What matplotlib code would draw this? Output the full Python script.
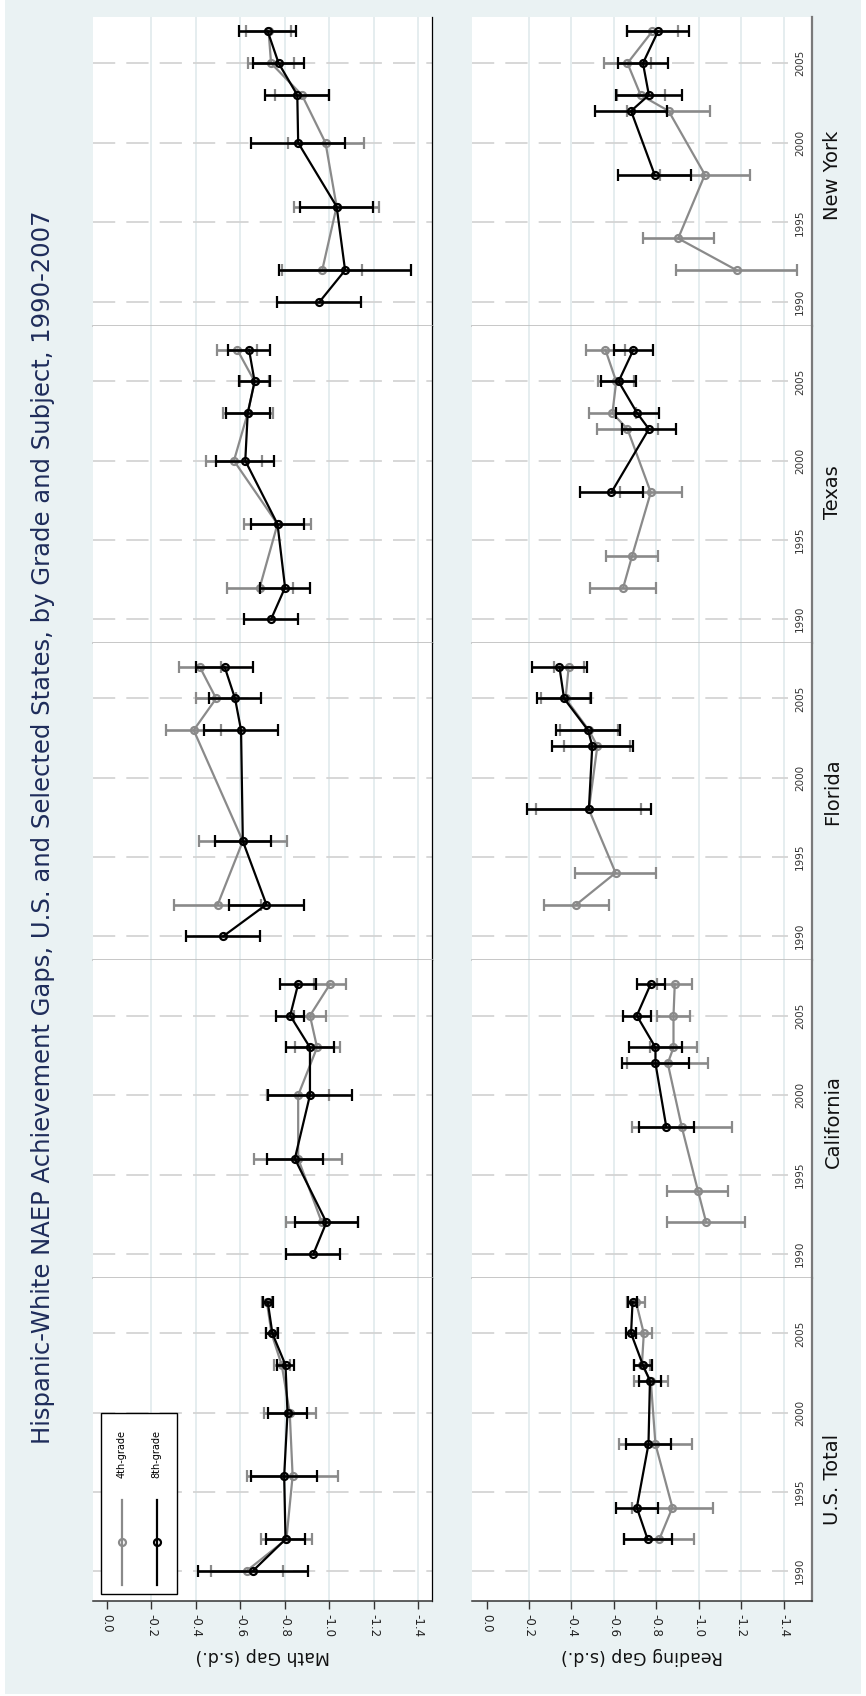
import numpy as np
import matplotlib
matplotlib.use("Agg")
import matplotlib.pyplot as plt
from matplotlib.patches import Rectangle

plt.rcParams['font.family'] = ['DejaVu Sans']
plt.rcParams['axes.unicode_minus'] = False
plt.rcParams['lines.scale_dashes'] = False

# NAEP assessment years
years_math = np.array([1990, 1992, 1996, 2000, 2003, 2005, 2007])
years_read = np.array([1992, 1994, 1998, 2002, 2003, 2005, 2007])

states = ['New York', 'Texas', 'Florida', 'California', 'U.S. Total']
gap_ticks = [0.0, -0.2, -0.4, -0.6, -0.8, -1.0, -1.2, -1.4]
year_grid = [1990, 1995, 2000, 2005]
nan = np.nan

# gap estimates and half-width of the 95% interval (s.d. units)
us_math_g4 = [-0.628, -0.807, -0.835, -0.822, -0.786, -0.740, -0.719]
us_math_g4_ci = [0.162, 0.115, 0.204, 0.118, 0.037, 0.026, 0.023]
us_math_g8 = [-0.656, -0.803, -0.797, -0.812, -0.803, -0.744, -0.723]
us_math_g8_ci = [0.248, 0.088, 0.148, 0.089, 0.037, 0.027, 0.022]
us_read_g4 = [-0.814, -0.876, -0.796, -0.774, -0.732, -0.741, -0.704]
us_read_g4_ci = [0.166, 0.189, 0.172, 0.081, 0.037, 0.037, 0.042]
us_read_g8 = [-0.759, -0.708, -0.763, -0.770, -0.737, -0.681, -0.688]
us_read_g8_ci = [0.113, 0.100, 0.108, 0.051, 0.041, 0.023, 0.020]

ca_math_g4 = [nan, -0.966, -0.860, -0.860, -0.945, -0.913, -1.004]
ca_math_g4_ci = [nan, 0.163, 0.197, 0.139, 0.101, 0.072, 0.072]
ca_math_g8 = [-0.928, -0.987, -0.845, -0.913, -0.913, -0.824, -0.860]
ca_math_g8_ci = [0.122, 0.143, 0.127, 0.188, 0.110, 0.062, 0.082]
ca_read_g4 = [-1.035, -0.996, -0.920, -0.854, -0.881, -0.881, -0.887]
ca_read_g4_ci = [0.185, 0.144, 0.237, 0.191, 0.112, 0.080, 0.083]
ca_read_g8 = [nan, nan, -0.847, -0.796, -0.796, -0.708, -0.774]
ca_read_g8_ci = [nan, nan, 0.131, 0.158, 0.127, 0.065, 0.067]

fl_math_g4 = [nan, -0.498, -0.611, nan, -0.390, -0.491, -0.417]
fl_math_g4_ci = [nan, 0.195, 0.198, nan, 0.123, 0.090, 0.095]
fl_math_g8 = [-0.523, -0.717, -0.611, nan, -0.603, -0.576, -0.529]
fl_math_g8_ci = [0.167, 0.170, 0.125, nan, 0.166, 0.116, 0.127]
fl_read_g4 = [-0.423, -0.608, -0.482, -0.522, -0.482, -0.372, -0.387]
fl_read_g4_ci = [0.152, 0.192, 0.247, 0.155, 0.138, 0.115, 0.070]
fl_read_g8 = [nan, nan, -0.482, -0.498, -0.478, -0.365, -0.343]
fl_read_g8_ci = [nan, nan, 0.294, 0.190, 0.149, 0.128, 0.130]

tx_math_g4 = [nan, -0.687, -0.767, -0.571, -0.633, -0.664, -0.586]
tx_math_g4_ci = [nan, 0.149, 0.152, 0.127, 0.113, 0.065, 0.090]
tx_math_g8 = [-0.738, -0.801, -0.767, -0.622, -0.633, -0.664, -0.639]
tx_math_g8_ci = [0.121, 0.111, 0.119, 0.130, 0.099, 0.071, 0.095]
tx_read_g4 = [-0.644, -0.686, -0.774, -0.664, -0.593, -0.611, -0.560]
tx_read_g4_ci = [0.155, 0.122, 0.146, 0.144, 0.111, 0.085, 0.091]
tx_read_g8 = [nan, nan, -0.588, -0.765, -0.710, -0.622, -0.692]
tx_read_g8_ci = [nan, nan, 0.148, 0.126, 0.101, 0.082, 0.093]

ny_math_g4 = [nan, -0.968, -1.033, -0.983, -0.877, -0.738, -0.727]
ny_math_g4_ci = [nan, 0.181, 0.190, 0.171, 0.120, 0.105, 0.100]
ny_math_g8 = [-0.955, -1.071, -1.033, -0.860, -0.856, -0.772, -0.723]
ny_math_g8_ci = [0.189, 0.297, 0.163, 0.210, 0.144, 0.116, 0.129]
ny_read_g4 = [-1.179, -0.903, -1.029, -0.858, -0.726, -0.664, -0.781]
ny_read_g4_ci = [0.286, 0.168, 0.213, 0.194, 0.113, 0.111, 0.119]
ny_read_g8 = [nan, nan, -0.792, -0.681, -0.765, -0.737, -0.808]
ny_read_g8_ci = [nan, nan, 0.172, 0.171, 0.157, 0.116, 0.144]

math_series = [
    (ny_math_g4, ny_math_g4_ci, ny_math_g8, ny_math_g8_ci),
    (tx_math_g4, tx_math_g4_ci, tx_math_g8, tx_math_g8_ci),
    (fl_math_g4, fl_math_g4_ci, fl_math_g8, fl_math_g8_ci),
    (ca_math_g4, ca_math_g4_ci, ca_math_g8, ca_math_g8_ci),
    (us_math_g4, us_math_g4_ci, us_math_g8, us_math_g8_ci),
]
read_series = [
    (ny_read_g4, ny_read_g4_ci, ny_read_g8, ny_read_g8_ci),
    (tx_read_g4, tx_read_g4_ci, tx_read_g8, tx_read_g8_ci),
    (fl_read_g4, fl_read_g4_ci, fl_read_g8, fl_read_g8_ci),
    (ca_read_g4, ca_read_g4_ci, ca_read_g8, ca_read_g8_ci),
    (us_read_g4, us_read_g4_ci, us_read_g8, us_read_g8_ci),
]

W, H = 866, 1696
fig = plt.figure(figsize=(W / 100, H / 100), dpi=100, facecolor='white')
fig.patches.append(Rectangle((5 / W, 2 / H), 856 / W, 1 - 2 / H, transform=fig.transFigure,
                             facecolor='#EAF2F3', edgecolor='none', zorder=-10))

GREY = '#8A8A8A'
BG_GRID = '#E3ECEE'
SEP = '#BEBEBE'

# pixel rows (top, bottom) and year ranges
rows = [(17, 326, 1988.5, 2007.9), (326, 643, 1988.5, 2008.5), (643, 960, 1988.5, 2008.5),
        (960, 1278, 1988.5, 2008.5), (1278, 1601, 1988.1, 2008.5)]
label_y = [175, 492, 792, 1122, 1479]
cols = [(93, 432, (0.063, -1.462), years_math, math_series),
        (472, 812, (0.069, -1.534), years_read, read_series)]


def px_axes(x0, x1, y0, y1):
    return fig.add_axes([x0 / W, 1 - y1 / H, (x1 - x0) / W, (y1 - y0) / H])


def draw_grade(ax, gap, ci, yrs, color, lw, z):
    gap = np.array(gap, dtype=float)
    ci = np.array(ci, dtype=float)
    ok = ~np.isnan(gap)
    ax.errorbar(gap[ok], yrs[ok], xerr=ci[ok], fmt='-o', color=color, ecolor=color,
                lw=lw, elinewidth=1.9, capsize=4.5, capthick=1.9, ms=5, mew=1.6,
                mfc='none', zorder=z)


for ci_col, (x0, x1, xlim, yrs, series) in enumerate(cols):
    for ri, (y0, y1, ylo, yhi) in enumerate(rows):
        ax = px_axes(x0, x1, y0, y1)
        ax.set_facecolor('white')
        ax.set_xlim(*xlim)
        ax.set_ylim(ylo, yhi)
        for g in gap_ticks[1:]:
            ax.axvline(g, color=BG_GRID, lw=1.3, zorder=0)
        xmax = 1.0 if ci_col == 0 else (788 - x0) / (x1 - x0)
        for yy in year_grid:
            ax.axhline(yy, xmax=xmax, color='#D4D4D4', lw=1.3, dashes=(16, 8), zorder=1)
        g4, g4c, g8, g8c = series[ri]
        draw_grade(ax, g4, g4c, yrs, GREY, 1.6, 3)
        draw_grade(ax, g8, g8c, yrs, 'black', 1.6, 4)

        ax.spines['left'].set_visible(False)
        ax.spines['top'].set_visible(False)
        if ci_col == 0:
            ax.spines['right'].set_color('black')
            ax.spines['right'].set_linewidth(0.9)
        else:
            ax.spines['right'].set_color('#7A7A7A')
            ax.spines['right'].set_linewidth(1.6)
        ax.set_yticks([])
        if ri == 4:
            ax.spines['bottom'].set_color('#333333')
            ax.spines['bottom'].set_linewidth(1.1)
            ax.set_xticks(gap_ticks)
            ax.set_xticklabels(['%.1f' % t for t in gap_ticks], rotation=270, fontsize=8.5,
                               color='#222222')
            ax.tick_params(axis='x', length=6, width=1, color='#333333', pad=3)
        else:
            ax.spines['bottom'].set_color(SEP)
            ax.spines['bottom'].set_linewidth(1.2)
            ax.set_xticks([])
        if ci_col == 1:
            for yy in year_grid:
                ax.text((800 - x0) / (x1 - x0), yy, str(yy), transform=ax.get_yaxis_transform(),
                        rotation=90, ha='center', va='center', fontsize=7.5, color='#333333')
        if ci_col == 0 and ri == 4:
            # legend box (keys drawn vertically like the rotated original)
            lx0, lx1 = (101 - x0) / (x1 - x0), (177 - x0) / (x1 - x0)
            ly0, ly1 = (1601 - 1594) / (1601 - 1278), (1601 - 1413) / (1601 - 1278)
            ax.add_patch(Rectangle((lx0, ly0), lx1 - lx0, ly1 - ly0, transform=ax.transAxes,
                                   facecolor='white', edgecolor='black', lw=1, zorder=6))
            for kx, col, lab in [(121.6, GREY, '4th-grade'), (156.5, 'black', '8th-grade')]:
                fx = (kx - x0) / (x1 - x0)
                ax.plot([fx, fx], [(1601 - 1585) / 323, (1601 - 1500) / 323], color=col, lw=1.6,
                        transform=ax.transAxes, zorder=7)
                ax.plot([fx], [(1601 - 1542) / 323], 'o', color=col, mfc='none', ms=5, mew=1.6,
                        transform=ax.transAxes, zorder=7)
                ax.text(fx, (1601 - 1454) / 323, lab, rotation=90, ha='center', va='center',
                        fontsize=7, transform=ax.transAxes, zorder=7)

# state labels on the right
for name, ly in zip(states, label_y):
    fig.text(833 / W, 1 - ly / H, name, rotation=90, ha='center', va='center',
             fontsize=14, color='#111111')

fig.text(262.5 / W, 1 - 1656 / H, 'Math Gap (s.d.)', rotation=180, ha='center', va='center',
         fontsize=12.5, color='#111111')
fig.text(642 / W, 1 - 1656 / H, 'Reading Gap (s.d.)', rotation=180, ha='center', va='center',
         fontsize=12.5, color='#111111')
fig.text(43 / W, 1 - 827 / H,
         'Hispanic-White NAEP Achievement Gaps, U.S. and Selected States, by Grade and Subject, 1990-2007',
         rotation=90, ha='center', va='center', fontsize=17.5, color='#1E2C5A')

fig.savefig('out.png', dpi=100, facecolor=fig.get_facecolor())
